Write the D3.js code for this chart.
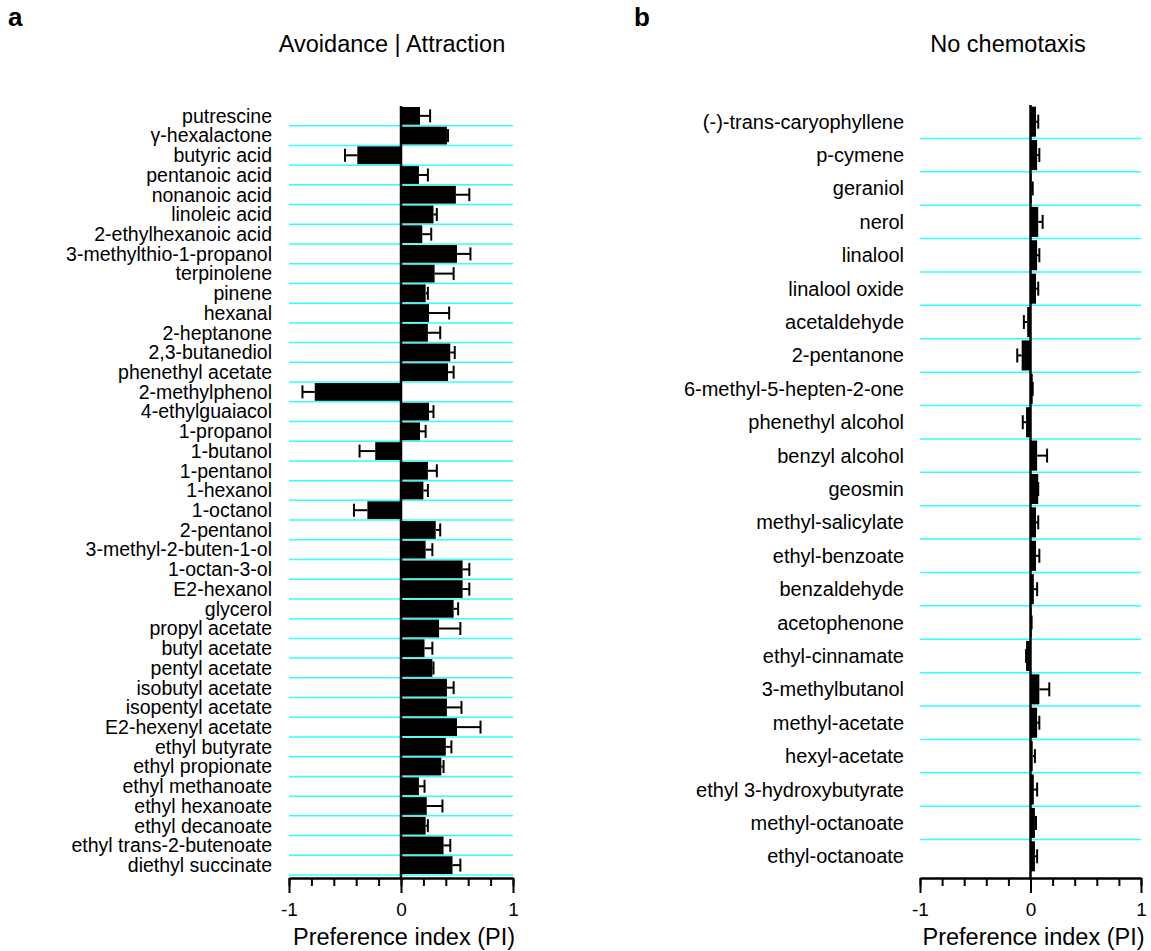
<!DOCTYPE html>
<html>
<head>
<meta charset="utf-8">
<script src="https://cdn.jsdelivr.net/npm/d3@7"></script>
<style>
  body { margin: 0; background: #fff; }
  svg { font-family: "Liberation Sans", Arial, sans-serif; }
</style>
</head>
<body>
<svg id="chart" width="1151" height="951"></svg>
<script>
// panel a: odours that give chemotaxis
var odoursA = ["putrescine", "\u03b3-hexalactone", "butyric acid", "pentanoic acid",
  "nonanoic acid", "linoleic acid", "2-ethylhexanoic acid", "3-methylthio-1-propanol",
  "terpinolene", "pinene", "hexanal", "2-heptanone", "2,3-butanediol",
  "phenethyl acetate", "2-methylphenol", "4-ethylguaiacol", "1-propanol",
  "1-butanol", "1-pentanol", "1-hexanol", "1-octanol", "2-pentanol",
  "3-methyl-2-buten-1-ol", "1-octan-3-ol", "E2-hexanol", "glycerol",
  "propyl acetate", "butyl acetate", "pentyl acetate", "isobutyl acetate",
  "isopentyl acetate", "E2-hexenyl acetate", "ethyl butyrate", "ethyl propionate",
  "ethyl methanoate", "ethyl hexanoate", "ethyl decanoate",
  "ethyl trans-2-butenoate", "diethyl succinate"];
var piA = [0.17, 0.41, -0.39, 0.16, 0.49, 0.29, 0.19, 0.50, 0.30, 0.22, 0.25, 0.24,
  0.44, 0.42, -0.77, 0.25, 0.17, -0.23, 0.24, 0.20, -0.30, 0.31, 0.22, 0.55, 0.55,
  0.47, 0.34, 0.21, 0.28, 0.41, 0.41, 0.50, 0.40, 0.36, 0.16, 0.23, 0.22, 0.38, 0.46];
var semA = [0.09, 0.01, 0.11, 0.08, 0.12, 0.03, 0.08, 0.12, 0.17, 0.02, 0.18, 0.11,
  0.04, 0.05, 0.11, 0.04, 0.05, 0.14, 0.08, 0.04, 0.12, 0.04, 0.06, 0.06, 0.06,
  0.04, 0.19, 0.07, 0.01, 0.06, 0.13, 0.21, 0.05, 0.02, 0.05, 0.14, 0.02, 0.06, 0.07];

// panel b: odours without chemotaxis
var odoursB = ["(-)-trans-caryophyllene", "p-cymene", "geraniol", "nerol", "linalool",
  "linalool oxide", "acetaldehyde", "2-pentanone", "6-methyl-5-hepten-2-one",
  "phenethyl alcohol", "benzyl alcohol", "geosmin", "methyl-salicylate",
  "ethyl-benzoate", "benzaldehyde", "acetophenone", "ethyl-cinnamate",
  "3-methylbutanol", "methyl-acetate", "hexyl-acetate", "ethyl 3-hydroxybutyrate",
  "methyl-octanoate", "ethyl-octanoate"];
var piB = [0.05, 0.06, 0.01, 0.07, 0.06, 0.05, -0.03, -0.08, 0.02, -0.04, 0.06, 0.07,
  0.05, 0.05, 0.03, 0.01, -0.04, 0.08, 0.06, 0.02, 0.03, 0.04, 0.04];
var semB = [0.02, 0.02, 0.01, 0.04, 0.02, 0.02, 0.03, 0.04, 0.00, 0.03, 0.09, 0.00,
  0.02, 0.03, 0.03, 0.00, 0.00, 0.09, 0.02, 0.02, 0.03, 0.01, 0.02];

var piTicks = [-1, 0, 1];

var svg = d3.select("#chart");

function drawPanel(opts) {
  var g = svg.append("g");
  var rows = opts.labels.map(function(d, i) {
    return {name: d, pi: opts.values[i], sem: opts.errors[i]};
  });

  var x = d3.scaleLinear().domain([-1, 1]).range([opts.left, opts.right]);
  var y = d3.scaleBand().domain(opts.labels)
    .range([opts.top, opts.bottom]).paddingInner(0.1).paddingOuter(0.05);
  var step = y.step();

  // cyan separators under each row
  g.selectAll(".sep").data(opts.lastLine ? opts.labels : opts.labels.slice(0, -1))
    .enter().append("line")
    .attr("x1", x(-1)).attr("x2", x(1))
    .attr("y1", function(d, i) { return opts.top + (i + 1) * step; })
    .attr("y2", function(d, i) { return opts.top + (i + 1) * step; })
    .attr("stroke", "#33ffff").attr("stroke-width", 1.5);

  g.selectAll(".bar").data(rows).enter().append("rect")
    .attr("x", function(d) { return x(Math.min(0, d.pi)); })
    .attr("y", function(d) { return y(d.name); })
    .attr("width", function(d) { return Math.abs(x(d.pi) - x(0)); })
    .attr("height", y.bandwidth())
    .attr("fill", "#000");

  // error bars (one sided, away from zero)
  var err = g.selectAll(".err").data(rows).enter().append("g");
  err.append("line")
    .attr("x1", function(d) { return x(d.pi); })
    .attr("x2", function(d) { return x(d.pi + Math.sign(d.pi) * d.sem); })
    .attr("y1", function(d) { return y(d.name) + y.bandwidth() / 2; })
    .attr("y2", function(d) { return y(d.name) + y.bandwidth() / 2; })
    .attr("stroke", "#000").attr("stroke-width", 2);
  err.append("line")
    .attr("x1", function(d) { return x(d.pi + Math.sign(d.pi) * d.sem); })
    .attr("x2", function(d) { return x(d.pi + Math.sign(d.pi) * d.sem); })
    .attr("y1", function(d) { return y(d.name) + y.bandwidth() / 2 - opts.cap / 2; })
    .attr("y2", function(d) { return y(d.name) + y.bandwidth() / 2 + opts.cap / 2; })
    .attr("stroke", "#000").attr("stroke-width", 2);

  // zero line
  g.append("line")
    .attr("x1", x(0)).attr("x2", x(0))
    .attr("y1", opts.top).attr("y2", opts.axisY)
    .attr("stroke", "#000").attr("stroke-width", 2.5);

  g.selectAll(".lab").data(rows).enter().append("text")
    .attr("x", opts.labelX)
    .attr("y", function(d) { return y(d.name) + y.bandwidth() / 2; })
    .attr("dy", "0.35em")
    .attr("text-anchor", "end")
    .attr("font-size", opts.labelSize)
    .attr("fill", "#000")
    .text(function(d) { return d.name; });

  // x axis: minor ticks every 0.2, long ticks with labels at -1, 0, 1
  var minor = g.append("g").attr("transform", "translate(0," + opts.axisY + ")")
    .call(d3.axisBottom(x).tickValues(d3.range(-10, 11, 2).map(function(v) { return v / 10; }))
      .tickSize(8).tickSizeOuter(0).tickFormat(""));
  minor.select(".domain").attr("stroke-width", 2.5);
  minor.selectAll(".tick line").attr("stroke-width", 2);

  var major = g.append("g").attr("transform", "translate(0," + opts.axisY + ")")
    .call(d3.axisBottom(x).tickValues(piTicks).tickSize(15).tickPadding(10)
      .tickFormat(d3.format("d")));
  major.select(".domain").remove();
  major.selectAll(".tick line").attr("stroke-width", 2);
  major.selectAll(".tick text")
    .attr("font-family", "Liberation Sans, Arial, sans-serif")
    .attr("font-size", 19).attr("fill", "#000")
    .text(function(d) { return d < 0 ? "-" + Math.abs(d) : d; });

  g.append("text")
    .attr("x", x(0) + 3).attr("y", opts.axisY + 67)
    .attr("text-anchor", "middle").attr("font-size", 23.5).attr("fill", "#000")
    .text("Preference index (PI)");

  g.append("text")
    .attr("x", opts.titleX).attr("y", opts.titleY)
    .attr("text-anchor", "middle").attr("font-size", 23.5).attr("fill", "#000")
    .text(opts.title);

  g.append("text")
    .attr("x", opts.letterX).attr("y", 26)
    .attr("font-size", 26).attr("font-weight", "bold")
    .text(opts.letter);
}

drawPanel({
  labels: odoursA, values: piA, errors: semA,
  left: 289, right: 513, top: 106, bottom: 875, axisY: 878,
  labelX: 272, labelSize: 19.5, cap: 13, lastLine: true,
  title: "Avoidance | Attraction", titleX: 392, titleY: 52,
  letter: "a", letterX: 8
});

drawPanel({
  labels: odoursB, values: piB, errors: semB,
  left: 920, right: 1141, top: 105, bottom: 873, axisY: 878,
  labelX: 904, labelSize: 20, cap: 14, lastLine: false,
  title: "No chemotaxis", titleX: 1008, titleY: 52,
  letter: "b", letterX: 634
});
</script>
</body>
</html>
